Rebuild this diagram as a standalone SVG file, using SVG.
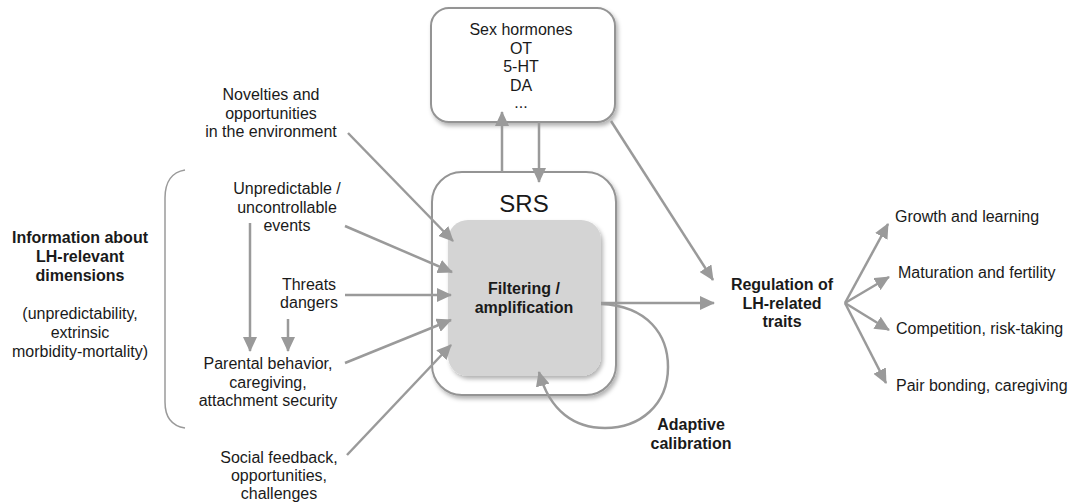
<svg xmlns="http://www.w3.org/2000/svg" width="1075" height="503" viewBox="0 0 1075 503">
<style>
text{font-family:"Liberation Sans",Arial,sans-serif;font-size:16px;fill:#1a1a1a}
.c{text-anchor:middle}
.b{font-weight:bold}
.box{fill:#fff;stroke:#949494;stroke-width:2}
.arr{fill:none;stroke:#9a9a9a;stroke-width:2.5;marker-end:url(#ah)}
.br{fill:none;stroke:#9a9a9a;stroke-width:1.5}
</style>
<defs>
<marker id="ah" markerUnits="userSpaceOnUse" markerWidth="15" markerHeight="14" refX="14" refY="7" orient="auto">
<path d="M0,0 L15,7 L0,14 Z" fill="#9a9a9a"/>
</marker>
<filter id="sh" x="-10%" y="-10%" width="125%" height="125%">
<feDropShadow dx="2" dy="3" stdDeviation="2" flood-color="#000" flood-opacity="0.3"/>
</filter>
</defs>

<g id="hormones">
<rect class="box" x="431" y="8" width="184" height="114" rx="18" filter="url(#sh)"/>
<text class="c" x="521" y="35">Sex hormones</text>
<text class="c" x="521" y="53.5">OT</text>
<text class="c" x="521" y="72">5-HT</text>
<text class="c" x="521" y="90.5">DA</text>
<text class="c" x="521" y="108">...</text>
</g>

<g id="srs">
<rect class="box" x="432" y="172" width="184" height="223" rx="30" filter="url(#sh)"/>
<text class="c" x="524" y="212" style="font-size:24px">SRS</text>
</g>

<g id="filtering">
<rect x="448" y="220" width="153" height="156" rx="20" fill="#d4d4d4" filter="url(#sh)"/>
<text class="c b" x="524" y="294">Filtering /</text>
<text class="c b" x="524" y="313">amplification</text>
</g>

<g id="novelties">
<text class="c" x="271" y="100">Novelties and</text>
<text class="c" x="271" y="118.5">opportunities</text>
<text class="c" x="271" y="137">in the environment</text>
</g>

<g id="unpredictable">
<text class="c" x="287" y="194">Unpredictable /</text>
<text class="c" x="287" y="212.5">uncontrollable</text>
<text class="c" x="287" y="231">events</text>
</g>

<g id="threats">
<text class="c" x="309" y="290">Threats</text>
<text class="c" x="309" y="308">dangers</text>
</g>

<g id="parental">
<text class="c" x="268" y="369">Parental behavior,</text>
<text class="c" x="268" y="387.5">caregiving,</text>
<text class="c" x="268" y="406">attachment security</text>
</g>

<g id="social">
<text class="c" x="279" y="463">Social feedback,</text>
<text class="c" x="279" y="481">opportunities,</text>
<text class="c" x="279" y="499">challenges</text>
</g>

<g id="information">
<path class="br" d="M185,170 C172,172 165,182 165,198 L165,402 C165,418 172,426 185,428"/>
<text class="c b" x="80" y="243">Information about</text>
<text class="c b" x="80" y="262">LH-relevant</text>
<text class="c b" x="80" y="281">dimensions</text>
<text class="c" x="80" y="319">(unpredictability,</text>
<text class="c" x="80" y="338">extrinsic</text>
<text class="c" x="80" y="357">morbidity-mortality)</text>
</g>

<g id="regulation">
<text class="c b" x="782" y="290">Regulation of</text>
<text class="c b" x="782" y="309">LH-related</text>
<text class="c b" x="782" y="327">traits</text>
</g>

<g id="adaptive">
<text class="c b" x="691" y="430">Adaptive</text>
<text class="c b" x="691" y="449">calibration</text>
</g>

<g id="outcomes">
<text x="895" y="222">Growth and learning</text>
<text x="898" y="278">Maturation and fertility</text>
<text x="896" y="334">Competition, risk-taking</text>
<text x="896" y="391">Pair bonding, caregiving</text>
</g>

<g id="connectors">
<line class="arr" x1="502" y1="172" x2="502" y2="112"/>
<line class="arr" x1="539" y1="122" x2="539" y2="182"/>
<line class="arr" x1="348" y1="133" x2="453" y2="241"/>
<line class="arr" x1="345" y1="226" x2="452" y2="272"/>
<line class="arr" x1="345" y1="295" x2="451" y2="295"/>
<line class="arr" x1="345" y1="363" x2="451" y2="320"/>
<line class="arr" x1="347" y1="455" x2="451" y2="345"/>
<line class="arr" x1="250" y1="223" x2="250" y2="351"/>
<line class="arr" x1="288" y1="319" x2="288" y2="351"/>
<line class="arr" x1="601" y1="303" x2="714" y2="303"/>
<line class="arr" x1="611" y1="121" x2="713" y2="280"/>
<path class="arr" d="M601,304 C648,306 668,335 668,367 C668,405 640,428 605,428 C575,428 550,412 539,372"/>
<line class="arr" x1="845" y1="303" x2="888" y2="224"/>
<line class="arr" x1="845" y1="303" x2="889" y2="277"/>
<line class="arr" x1="845" y1="303" x2="889" y2="330"/>
<line class="arr" x1="845" y1="303" x2="886" y2="383"/>
</g>
</svg>
